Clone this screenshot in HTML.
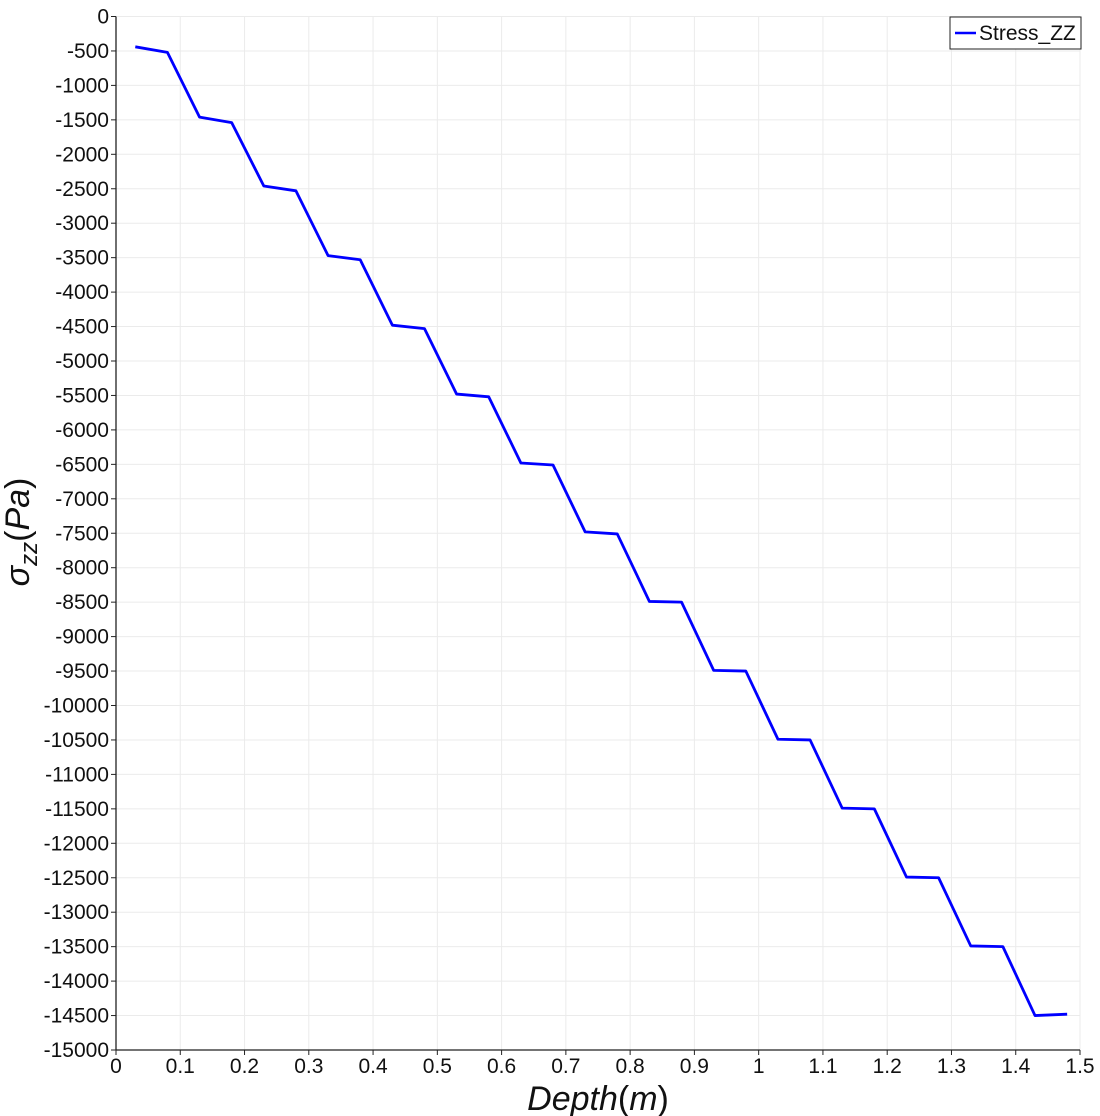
<!DOCTYPE html>
<html><head><meta charset="utf-8"><style>
html,body{margin:0;padding:0;background:#fff;}
svg{display:block;font-family:"Liberation Sans","DejaVu Sans",sans-serif;}
</style></head><body>
<svg id="chart" width="1100" height="1116" xmlns="http://www.w3.org/2000/svg"></svg>
<script>
const depths=[0.03,0.08,0.13,0.18,0.23,0.28,0.33,0.38,0.43,0.48,0.53,0.58,0.63,0.68,0.73,0.78,0.83,0.88,0.93,0.98,1.03,1.08,1.13,1.18,1.23,1.28,1.33,1.38,1.43,1.48];
const stressZZ=[-440,-520,-1460,-1540,-2460,-2530,-3470,-3530,-4480,-4530,-5480,-5520,-6480,-6510,-7480,-7510,-8490,-8500,-9490,-9500,-10490,-10500,-11490,-11500,-12490,-12500,-13490,-13500,-14500,-14480];
const xTicks=[0,0.1,0.2,0.3,0.4,0.5,0.6,0.7,0.8,0.9,1,1.1,1.2,1.3,1.4,1.5];
const yTicks=[0,-500,-1000,-1500,-2000,-2500,-3000,-3500,-4000,-4500,-5000,-5500,-6000,-6500,-7000,-7500,-8000,-8500,-9000,-9500,-10000,-10500,-11000,-11500,-12000,-12500,-13000,-13500,-14000,-14500,-15000];

const L=116,R=1080,T=16.5,B=1050;
const xs=v=>L+(v-0)/(1.5)*(R-L);
const ys=v=>T+(0-v)/15000*(B-T);
const svg=document.getElementById('chart');
const NS='http://www.w3.org/2000/svg';
function mk(tag,attrs,parent){const e=document.createElementNS(NS,tag);for(const k in attrs)e.setAttribute(k,attrs[k]);(parent||svg).appendChild(e);return e;}

const grid=mk('g',{});


xTicks.forEach(t=>{if(t>0){const l=mk('line',{x1:xs(t),x2:xs(t),y1:T,y2:B,stroke:'#ebebeb','stroke-width':1},grid);

}});
yTicks.forEach(t=>{if(t>-15000){const l=mk('line',{x1:L,x2:R,y1:ys(t),y2:ys(t),stroke:'#ebebeb','stroke-width':1},grid);

}});

const axes=mk('g',{stroke:'#222','stroke-width':1.3});


mk('line',{x1:L,x2:L,y1:T,y2:B},axes);
mk('line',{x1:L,x2:R,y1:B,y2:B},axes);

const xl=mk('g',{'font-size':21,fill:'#111','text-anchor':'middle'});


xTicks.forEach(t=>{mk('line',{x1:xs(t),x2:xs(t),y1:B,y2:B+5,stroke:'#222'},xl);
const tx=mk('text',{x:xs(t),y:B+23},xl);tx.textContent=String(t);

});

const yl=mk('g',{'font-size':21,fill:'#111','text-anchor':'end'});


yTicks.forEach(t=>{mk('line',{x1:L-5,x2:L,y1:ys(t),y2:ys(t),stroke:'#222'},yl);
const tx=mk('text',{x:L-7,y:ys(t)+7},yl);tx.textContent=String(t);

});

const line=mk('polyline',{points:depths.map((d,i)=>xs(d)+','+ys(stressZZ[i])).join(' '),fill:'none',stroke:'#0000ff','stroke-width':2.8,'stroke-linejoin':'round'});



const xt=mk('text',{x:598,y:1110,'font-size':34,'text-anchor':'middle',fill:'#111'});


xt.innerHTML='<tspan font-style="italic">Depth</tspan>(<tspan font-style="italic">m</tspan>)';

const yt=mk('text',{x:0,y:0,'font-size':34,'text-anchor':'middle',fill:'#111',transform:'translate(29,532) rotate(-90)'});


yt.innerHTML='<tspan font-style="italic">σ</tspan><tspan font-style="italic" font-size="24" dy="8">zz</tspan><tspan dy="-8">(</tspan><tspan font-style="italic">Pa</tspan>)';

const lg=mk('g',{});


mk('rect',{x:950,y:17,width:131,height:32,fill:'#fff',stroke:'#222','stroke-width':1},lg);
const ls=mk('line',{x1:955,x2:976,y1:33,y2:33,stroke:'#0000ff','stroke-width':2.6},lg);


const lt=mk('text',{x:979,y:40,'font-size':21,fill:'#111'},lg);
lt.textContent='Stress_ZZ';


</script>
</body></html>
